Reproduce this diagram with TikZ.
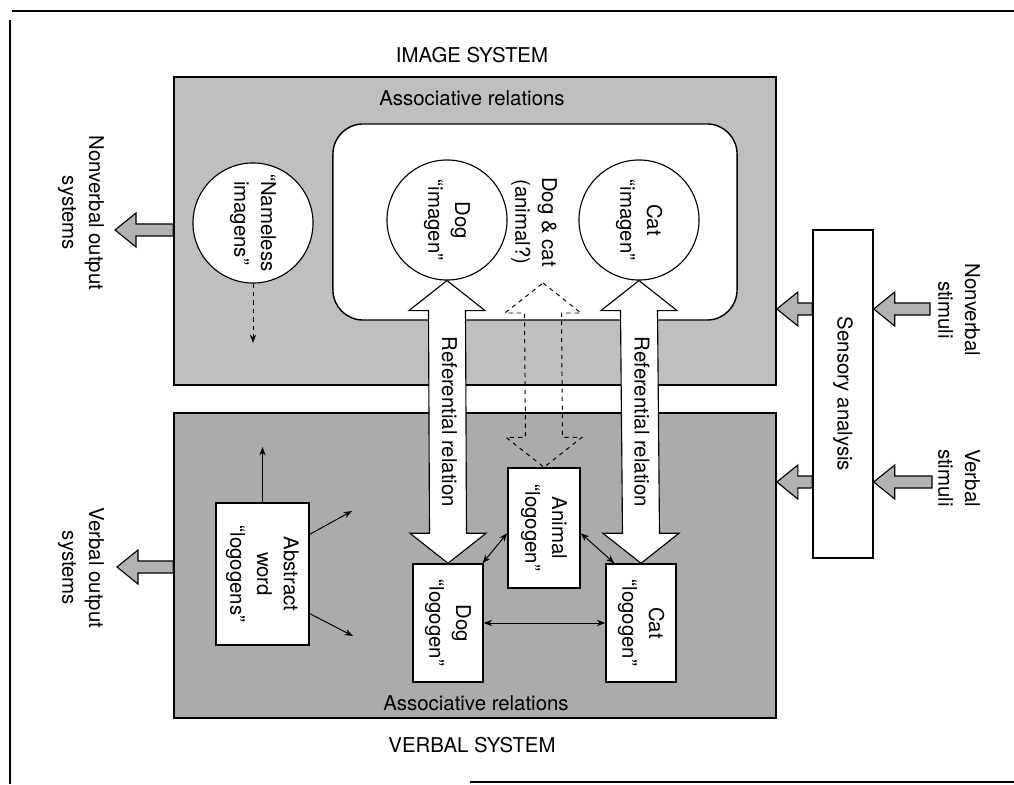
\documentclass[tikz,border=0pt]{standalone}
\usepackage{fontspec}
\setmainfont{TeX Gyre Heros}
\usepackage{graphicx}
\usetikzlibrary{calc,arrows.meta}

\newcommand\rtxt[1]{\rotatebox{-90}{\begin{tabular}{@{}c@{}}#1\end{tabular}}}
% double block arrow: style, top tip, bottom tip
\newcommand\dblarrow[3]{%
  \draw[#1] #2 -- ($#2+(38,-30)$) -- ($#2+(18.5,-30)$) -- ($#3+(18.5,30)$) -- ($#3+(38,30)$)
    -- #3 -- ($#3+(-38,30)$) -- ($#3+(-18.5,30)$) -- ($#2+(-18.5,-30)$) -- ($#2+(-38,-30)$) -- cycle;}
% block arrow pointing left: tail, tip
\newcommand\leftarr[2]{%
  \draw[blockarr] ($#1+(0,6)$) -- ($#2+(21,6)$) -- ($#2+(21,17)$) -- #2
    -- ($#2+(21,-17)$) -- ($#2+(21,-6)$) -- ($#1+(0,-6)$) -- cycle;}

\begin{document}
\begin{tikzpicture}[x=0.025cm, y=0.025cm,
  every node/.style={font=\fontsize{14.5}{19}\selectfont},
  sysbox/.style={draw, line width=1.1pt},
  imgbox/.style={circle, draw, fill=white, line width=0.8pt, minimum size=3cm, inner sep=0pt},
  logbox/.style={draw, fill=white, line width=1pt, inner sep=0pt},
  refarrow/.style={draw, fill=white, line width=0.8pt},
  dasharrow/.style={draw, dashed, line width=0.7pt},
  blockarr/.style={draw, fill=black!30, line width=0.8pt},
  assoc/.style={<->, line width=0.7pt},
  >={Stealth[length=6pt, width=4.5pt]}]

  \useasboundingbox (0,0) rectangle (1014,784);

  % frame
  \draw[line width=1.2pt] (12,773) -- (1014,773);
  \draw[line width=1pt] (10,764) -- (10,0);
  \draw[line width=1.2pt] (470,2) -- (1014,2);

  % the two systems
  \node[sysbox, fill=black!25, minimum width=15.05cm, minimum height=7.7cm] (imgsys) at (475,553) {};
  \node[sysbox, fill=black!33, minimum width=15.05cm, minimum height=7.625cm] (verbsys) at (475,218.5) {};
  \node[draw, fill=white, line width=1pt, rounded corners=0.75cm, minimum width=10.1cm, minimum height=4.9cm] (inner) at (535,562) {};

  \node (imgtitle) at (472,729) {IMAGE SYSTEM};
  \node (verbtitle) at (472,39) {VERBAL SYSTEM};
  \node (associmg) at (472,686) {Associative relations};
  \node (assocverb) at (476,81) {Associative relations};

  % imagens
  \node[imgbox] (nameless) at (253,561) {\rtxt{“Nameless\\imagens”}};
  \node[imgbox] (dogimg) at (447,564) {\rtxt{Dog\\“imagen”}};
  \node[imgbox] (catimg) at (639,564) {\rtxt{Cat\\“imagen”}};
  \node (dogcat) at (534,562) {\rtxt{Dog \& cat\\(animal?)}};

  % logogens
  \node[logbox, minimum width=1.75cm, minimum height=2.95cm] (doglog) at (448,161) {\rtxt{Dog\\“logogen”}};
  \node[logbox, minimum width=1.75cm, minimum height=2.95cm] (catlog) at (641,161) {\rtxt{Cat\\“logogen”}};
  \node[logbox, minimum width=1.8cm, minimum height=3cm] (animal) at (544,256) {\rtxt{Animal\\“logogen”}};
  \node[logbox, minimum width=2.325cm, minimum height=3.55cm] (abstract) at (262.5,210) {\rtxt{Abstract\\word\\“logogens”}};

  % referential relations
  \dblarrow{refarrow}{(dogimg.south)}{(doglog.north)}
  \dblarrow{refarrow}{(catimg.south)}{(catlog.north)}
  \coordinate (dctip) at (543,501);
  \dblarrow{dasharrow}{(dctip)}{(animal.north)}
  \node (ref1) at ($(dogimg.south)!0.5!(doglog.north)$) {\rtxt{Referential relation}};
  \node (ref2) at ($(catimg.south)!0.5!(catlog.north)$) {\rtxt{Referential relation}};

  % associative links
  \draw[assoc] (doglog.60) -- (animal.188);
  \draw[assoc] (animal.352) -- (catlog.114);
  \draw[assoc] (doglog.east) -- (catlog.west);
  \coordinate (absup) at (262.5,337);
  \coordinate (absne) at (352,273);
  \coordinate (absse) at (353,148);
  \draw[->, line width=0.7pt] (abstract.north) -- (absup);
  \draw[->, line width=0.7pt] (abstract.40) -- (absne);
  \draw[->, line width=0.7pt] (abstract.-40) -- (absse);
  \coordinate (namdown) at (253,441);
  \draw[->, dashed, line width=0.7pt] (nameless.south) -- (namdown);

  % outputs
  \coordinate (nvout) at (115,554);
  \coordinate (vout) at (117,217);
  \leftarr{(imgsys.west |- nvout)}{(nvout)}
  \leftarr{(verbsys.west |- vout)}{(vout)}
  \node (nvouttxt) at (81,571) {\rtxt{Nonverbal output\\systems}};
  \node (vouttxt) at (81,216) {\rtxt{Verbal output\\systems}};

  % inputs
  \node[logbox, minimum width=1.5cm, minimum height=8.2cm] (sensory) at (843,390) {\rtxt{Sensory analysis}};
  \coordinate (nvstim) at (930,475);
  \coordinate (vstim) at (932,302);
  \leftarr{(sensory.west |- nvstim)}{(imgsys.east |- nvstim)}
  \leftarr{(sensory.west |- vstim)}{(verbsys.east |- vstim)}
  \leftarr{(nvstim)}{(sensory.east |- nvstim)}
  \leftarr{(vstim)}{(sensory.east |- vstim)}
  \node (nvstimtxt) at (957,474) {\rtxt{Nonverbal\\stimuli}};
  \node (vstimtxt) at (957,306) {\rtxt{Verbal\\stimuli}};
\end{tikzpicture}
\end{document}
